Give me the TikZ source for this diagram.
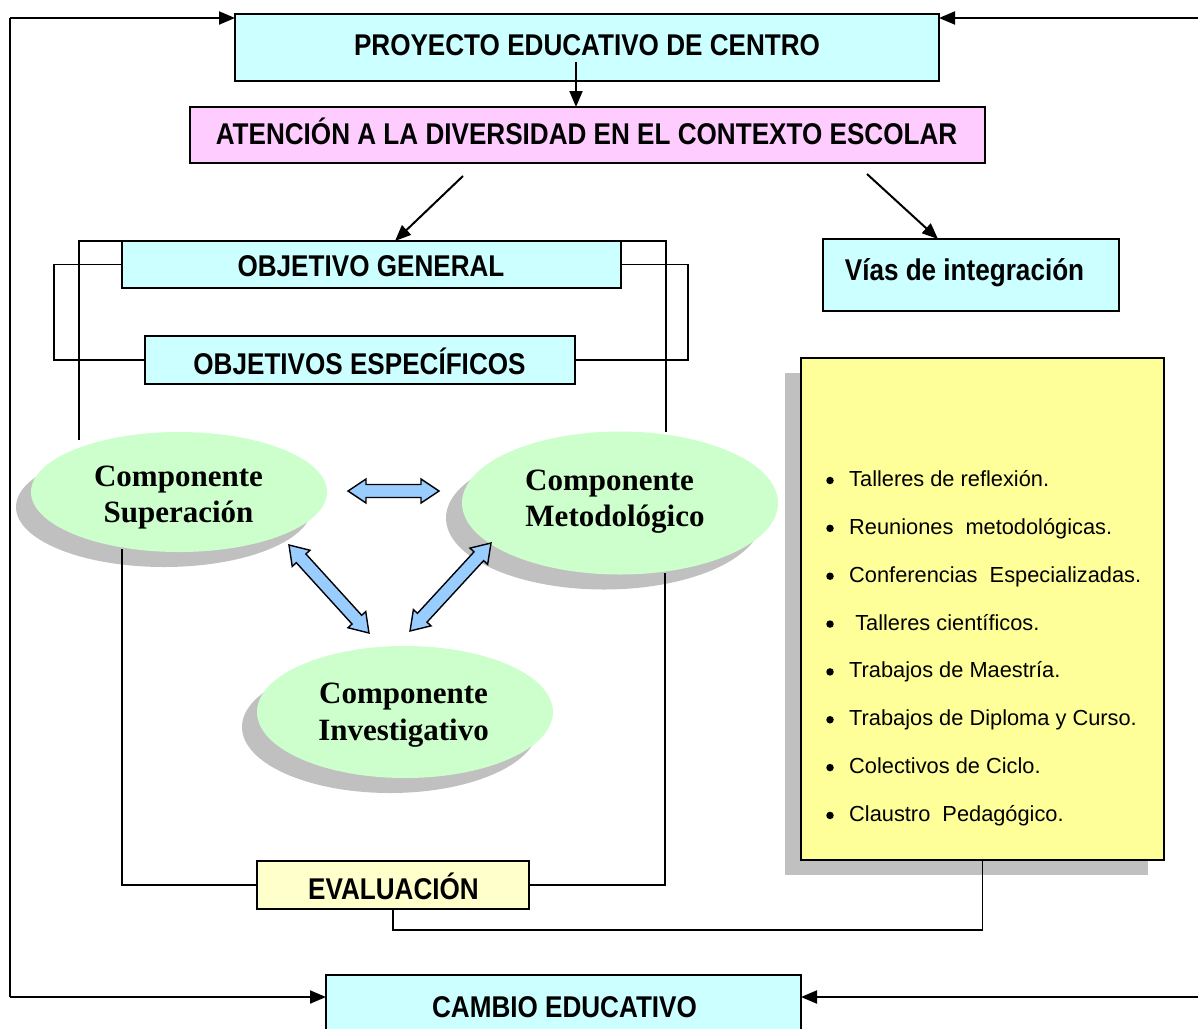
\documentclass[tikz,border=0pt]{standalone}
\usepackage{fontspec}
\setmainfont{Liberation Sans}
\newfontfamily\lblfont[FakeStretch=0.87]{Liberation Sans}
\newfontfamily\serfont{Liberation Serif}
\usetikzlibrary{arrows.meta,shapes.geometric}
\definecolor{cyanL}{HTML}{CCFFFF}
\definecolor{pinkL}{HTML}{FFCCFF}
\definecolor{greenL}{HTML}{CCFFCC}
\definecolor{yellowB}{HTML}{FFFF99}
\definecolor{yellowL}{HTML}{FFFFCC}
\definecolor{shadowG}{HTML}{C0C0C0}
\definecolor{arrowB}{HTML}{99CCFF}
\tikzset{
  boxst/.style={draw=black, line width=1.8pt, rectangle, inner sep=0pt, outer sep=0pt, anchor=north west},
  lbl/.style={font=\lblfont\bfseries\fontsize{30}{36}\selectfont, inner sep=0pt, anchor=base},
  ctext/.style={font=\serfont\bfseries\fontsize{31}{37}\selectfont, inner sep=0pt, anchor=base},
  litem/.style={font=\fontsize{21.8}{26}\selectfont, inner sep=0pt},
  bul/.style={circle, fill=black, inner sep=0pt, outer sep=0pt, minimum size=7.5pt},
  conn/.style={line width=2pt, -{Triangle[length=16pt,width=13pt]}},
  plainln/.style={line width=2pt},
  frameln/.style={line width=1.6pt},
  dblarrow/.style={draw=black, fill=arrowB, line width=1.4pt, line join=miter},
  shadowE/.style={ellipse, fill=shadowG, inner sep=0pt, outer sep=0pt},
  greenE/.style={ellipse, fill=greenL, inner sep=0pt, outer sep=0pt},
}
\newcommand\blockdbl[2]{%
  \path (#1); \pgfgetlastxy{\bdAx}{\bdAy}%
  \path (#2); \pgfgetlastxy{\bdBx}{\bdBy}%
  \pgfmathsetmacro\bdAng{atan2((\bdBy)-(\bdAy),(\bdBx)-(\bdAx))}%
  \pgfmathsetmacro\bdLen{veclen((\bdBx)-(\bdAx),(\bdBy)-(\bdAy))}%
  \draw[dblarrow, shift={(\bdAx,\bdAy)}, rotate=\bdAng] (0,0) -- (18,12) -- (18,6.5) -- (\bdLen-18,6.5) -- (\bdLen-18,12) -- (\bdLen,0) -- (\bdLen-18,-12) -- (\bdLen-18,-6.5) -- (18,-6.5) -- (18,-12) -- cycle;
}
\begin{document}
\begin{tikzpicture}[x=1pt,y=-1pt]
\useasboundingbox (0,0) rectangle (1198,1028);
\clip (0,0) rectangle (1198,1028);

% shadows
\node[shadowE, minimum width=296, minimum height=120] (supS) at (164,507) {};
\node[shadowE, minimum width=316, minimum height=143] (metS) at (604,518) {};
\node[shadowE, minimum width=296, minimum height=132] (invS) at (390,727) {};
\node[rectangle, fill=shadowG, inner sep=0pt, outer sep=0pt, anchor=north west, minimum width=363, minimum height=502] (ybS) at (785,373) {};

% boxes
\node[boxst, fill=cyanL, minimum width=704, minimum height=67] (pec) at (235,14) {};
\node[lbl] (pecT) at (587,55) {PROYECTO EDUCATIVO DE CENTRO};
\node[boxst, fill=pinkL, minimum width=795, minimum height=56] (at) at (190,107) {};
\node[lbl] (atT) at (586.5,144) {ATENCIÓN A LA DIVERSIDAD EN EL CONTEXTO ESCOLAR};
\node[boxst, fill=cyanL, minimum width=499, minimum height=47] (og) at (122,241) {};
\node[lbl] (ogT) at (371,276) {OBJETIVO GENERAL};
\node[boxst, fill=cyanL, minimum width=430, minimum height=48] (oe) at (145,336) {};
\node[lbl] (oeT) at (359.5,374) {OBJETIVOS ESPECÍFICOS};
\node[boxst, fill=cyanL, minimum width=296, minimum height=72] (vias) at (823,239) {};
\node[lbl] (viasT) at (964.5,280) {Vías de integración};
\node[boxst, fill=yellowB, minimum width=363, minimum height=502] (yb) at (801,358) {};
\node[boxst, fill=yellowL, minimum width=272, minimum height=48] (ev) at (257,861) {};
\node[lbl] (evT) at (393.5,899) {EVALUACIÓN};
\node[boxst, fill=cyanL, minimum width=475, minimum height=70] (cb) at (326,975) {};
\node[lbl] (cbT) at (564.5,1017) {CAMBIO EDUCATIVO};

% list
\foreach \i/\t in {0/{Talleres de reflexión.},1/{Reuniones\ \ metodológicas.},2/{Conferencias\ \ Especializadas.},3/{\ Talleres científicos.},4/{Trabajos de Maestría.},5/{Trabajos de Diploma y Curso.},6/{Colectivos de Ciclo.},7/{Claustro\ \ Pedagógico.}}{
  \node[bul] (b\i) at (830,480.5+47.85*\i) {};
  \node[litem, anchor=base west] (l\i) at (849,486.5+47.85*\i) {\t};
}

% ellipses
\node[greenE, minimum width=296, minimum height=120] (sup) at (179,492) {};
\node[greenE, minimum width=316, minimum height=143] (met) at (620,503) {};
\node[greenE, minimum width=296, minimum height=132] (inv) at (405,712) {};
\node[ctext] (supT1) at (178.5,486) {Componente};
\node[ctext] (supT2) at (178.5,522) {Superación};
\node[ctext] (metT1) at (609.5,490) {Componente};
\node[ctext] (metT2) at (615,526) {Metodológico};
\node[ctext] (invT1) at (403.5,703) {Componente};
\node[ctext] (invT2) at (403.5,740) {Investigativo};

% outer loop
\coordinate (tl) at (10,18);
\coordinate (bl) at (10,997);
\coordinate (tr) at (1215,18);
\coordinate (br) at (1215,997);
\draw[plainln] (tl) -- (bl);
\draw[conn] (tl) -- (tl -| pec.west);
\draw[conn] (bl) -- (bl -| cb.west);
\draw[conn] (tr) -- (tr -| pec.east);
\draw[conn] (br) -- (br -| cb.east);

% top arrows
\coordinate (d1) at (576,62);
\draw[conn] (d1) -- (d1 |- at.north);
\coordinate (a1s) at (463,176);
\coordinate (a1e) at (395,241);
\draw[conn] (a1s) -- (a1e);
\coordinate (a2s) at (867,174);
\coordinate (a2e) at (938,239);
\draw[conn] (a2s) -- (a2e);

% frame
\coordinate (f1) at (79,440);
\coordinate (f2) at (79,241);
\coordinate (f3) at (666,241);
\coordinate (f4) at (666,432);
\draw[frameln] (f1) -- (f2) -- (f3) -- (f4);
\coordinate (lb) at (54,0);
\coordinate (rb) at (688,0);
\draw[frameln] (og.west) -| (lb |- oe.west) -- (oe.west);
\draw[frameln] (og.east) -| (rb |- oe.east) -- (oe.east);
\coordinate (f5) at (122,549);
\coordinate (f6) at (665,573);
\draw[frameln] (f5) |- (ev.west);
\draw[frameln] (f6) |- (ev.east);
\coordinate (jy) at (0,930);
\draw[frameln] (ev.south) -- (ev.south |- jy) -| (yb.south);

% block double arrows
\coordinate (h1) at (348,491);
\coordinate (h2) at (439,491);
\coordinate (s1) at (289,545);
\coordinate (s2) at (369,633);
\coordinate (m1) at (491,543);
\coordinate (m2) at (410,631);
\blockdbl{h1}{h2}
\blockdbl{s1}{s2}
\blockdbl{m1}{m2}
\end{tikzpicture}
\end{document}
